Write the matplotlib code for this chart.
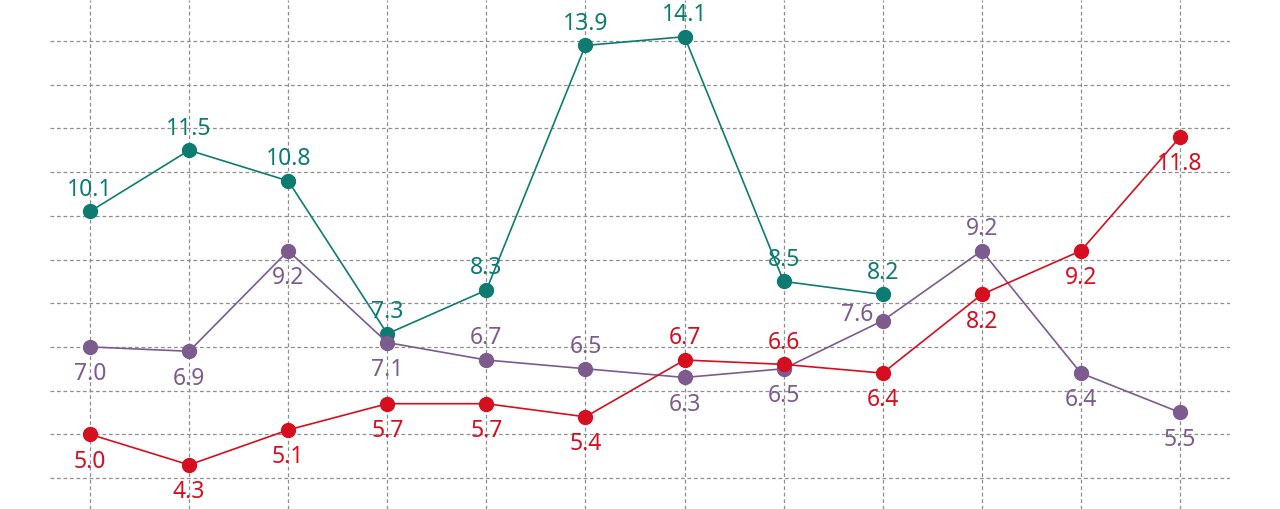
import matplotlib.pyplot as plt
import numpy as np

# data
positions = list(range(12))
teal_vals = [10.1, 11.5, 10.8, 7.3, 8.3, 13.9, 14.1, 8.5, 8.2, np.nan, np.nan, np.nan]
purple_vals = [7.0, 6.9, 9.2, 7.1, 6.7, 6.5, 6.3, 6.5, 7.6, 9.2, 6.4, 5.5]
red_vals = [5.0, 4.3, 5.1, 5.7, 5.7, 5.4, 6.7, 6.6, 6.4, 8.2, 9.2, 11.8]

# label placement per point: 'a' above, 'b' below, 'l' left
teal_pos = ['a'] * 9 + [None] * 3
purple_pos = ['b', 'b', 'b', 'b', 'a', 'a', 'b', 'b', 'l', 'a', 'b', 'b']
red_pos = ['b', 'b', 'b', 'b', 'b', 'b', 'a', 'a', 'b', 'b', 'b', 'b']

teal = '#0e7b73'
purple = '#7d5b8e'
red = '#d50f1f'

plt.rcParams['font.family'] = ['Noto Sans', 'DejaVu Sans']

fig = plt.figure(figsize=(12.8, 5.09), dpi=100)
ax = fig.add_axes([50 / 1280, 0, 1180 / 1280, 1])
ax.set_xlim(-0.404, 11.505)
ax.set_ylim(3.29, 14.94)

ax.set_xticks(positions)
ax.set_yticks(range(4, 15))
ax.set_yticks([6, 12], minor=True)
ax.tick_params(which='major', length=0, labelleft=False, labelbottom=False)
ax.tick_params(which='minor', axis='y', length=5, width=1.2, direction='in', color='#555555')
ax.tick_params(which='minor', axis='x', length=0)
ax.grid(True, which='major', color='#8f8f8f', linestyle=(0, (3, 2.2)), linewidth=0.9)
ax.set_axisbelow(True)
for s in ax.spines.values():
    s.set_visible(False)

offsets = {'a': (0, 7, 'center', 'bottom'), 'b': (0, -11, 'center', 'top'),
           'l': (-7, 4, 'right', 'center')}


def draw(vals, color, where):
    ax.plot(positions, vals, color=color, linewidth=1.2, marker='o', markersize=10,
            zorder=3)
    for x, v, p in zip(positions, vals, where):
        if p is None or np.isnan(v):
            continue
        dx, dy, ha, va = offsets[p]
        ax.annotate(f'{v:.1f}', (x, v), xytext=(dx, dy), textcoords='offset points',
                    ha=ha, va=va, color=color, fontsize=16.5, zorder=4)


draw(teal_vals, teal, teal_pos)
draw(purple_vals, purple, purple_pos)
draw(red_vals, red, red_pos)

plt.savefig('out.png', dpi=100)
